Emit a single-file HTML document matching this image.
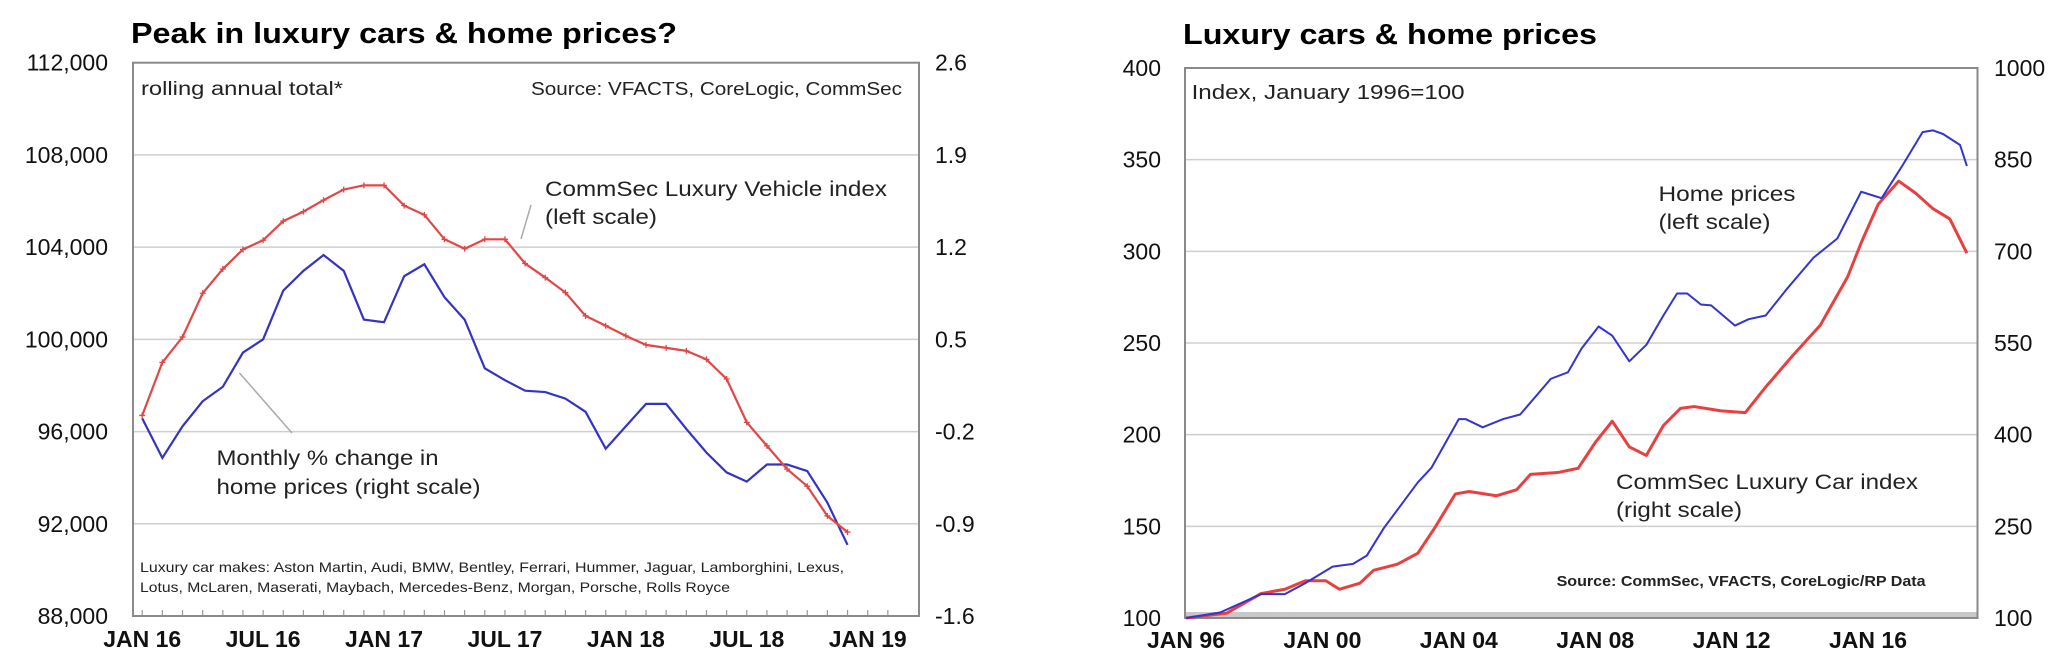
<!DOCTYPE html>
<html><head><meta charset="utf-8"><style>
html,body{margin:0;padding:0;background:#fff;width:2059px;height:668px;overflow:hidden}
svg{display:block;font-family:"Liberation Sans",Arial,sans-serif}
</style></head><body>
<svg id="s" width="2059" height="668" viewBox="0 0 2059 668">
<g id="left"></g>
<g id="right"></g>
</svg>
<script>
// ---------- Left chart data ----------
const leftMonths = ["JAN 16","JUL 16","JAN 17","JUL 17","JAN 18","JUL 18","JAN 19"];
const leftYTicks = ["88,000","92,000","96,000","100,000","104,000","108,000","112,000"];
const rightYTicksL = ["-1.6","-0.9","-0.2","0.5","1.2","1.9","2.6"];
const luxuryVehicle = [96700,99000,100100,102000,103050,103900,104300,105130,105540,106040,106500,106680,106680,105800,105400,104340,103930,104340,104340,103290,102680,102030,101020,100590,100150,99760,99630,99500,99130,98280,96400,95380,94370,93630,92340,91640];
const homeMonthlyChange = [-0.10,-0.40,-0.16,0.03,0.14,0.40,0.50,0.87,1.02,1.14,1.02,0.65,0.63,0.98,1.07,0.82,0.65,0.28,0.19,0.11,0.10,0.05,-0.05,-0.33,-0.16,0.01,0.01,-0.18,-0.36,-0.51,-0.58,-0.45,-0.45,-0.50,-0.74,-1.06];

// ---------- Right chart data ----------
const rightXTicks = ["JAN 96","JAN 00","JAN 04","JAN 08","JAN 12","JAN 16"];
const rightYTicksLeft = ["100","150","200","250","300","350","400"];
const rightYTicksRight = ["100","250","400","550","700","850","1000"];
const homeYears = [1996.0,1997.0,1998.2,1998.9,1999.5,2000.3,2000.9,2001.3,2001.8,2002.8,2003.2,2004.0,2004.2,2004.7,2005.3,2005.8,2006.7,2007.2,2007.6,2008.1,2008.5,2009.0,2009.5,2010.0,2010.4,2010.7,2011.1,2011.4,2012.1,2012.5,2013.0,2013.6,2014.4,2015.1,2015.8,2016.4,2017.0,2017.6,2017.9,2018.2,2018.7,2018.9];
const homePrices = [100,103,113,113,119,128,129.5,134,149,174,182,208.5,208.5,204,208.5,211,230.5,234,247,259,254,240,249,265,277,277,271,270.5,259.5,263,265,279,296.5,307,332.5,329,346.5,365,366,364,358,346.5];
const carYears = [1996.0,1997.2,1998.2,1998.9,1999.5,2000.1,2000.5,2001.1,2001.5,2002.2,2002.8,2003.3,2003.9,2004.3,2005.1,2005.7,2006.1,2006.9,2007.5,2008.0,2008.5,2009.0,2009.5,2010.0,2010.5,2010.9,2011.7,2012.4,2013.0,2013.8,2014.6,2015.4,2015.8,2016.3,2016.9,2017.4,2017.9,2018.4,2018.9];
const carIndex = [100,108,140,147,161,161,147,157,178,188,206,248,303,307,300,310,335,338,345,387,422,380,366,415,443,446,439,436,478,530,579,658,714,777,815,795,770,753,697];

const NS="http://www.w3.org/2000/svg";
function mk(parent,tag,attrs,text){const e=document.createElementNS(NS,tag);for(const k in attrs)e.setAttribute(k,attrs[k]);if(text!==undefined)e.textContent=text;parent.appendChild(e);return e;}

// ===== LEFT =====
(function(){
const g=document.getElementById('left');
const L=133,R=919,T=62.7,B=616;
const x=i=>142.2+i*(867.7-142.2)/36;
const yL=v=>B-(v-88000)/24000*(B-T);
const yR=v=>B-(v+1.6)/4.2*(B-T);
let t=mk(g,'text',{x:131,y:43,'font-size':29,'font-weight':'bold',textLength:546,lengthAdjust:'spacingAndGlyphs'},'Peak in luxury cars & home prices?');

leftYTicks.forEach((s,i)=>{const yy=B-i*(B-T)/6;
 if(i>0&&i<6){const l=mk(g,'line',{x1:L,x2:R,y1:yy,y2:yy,stroke:'#cfcfcf','stroke-width':1.5});}
 const a=mk(g,'text',{x:108,y:yy+8,'font-size':23,'text-anchor':'end',fill:'#111'},s);
 const b=mk(g,'text',{x:935,y:yy+8,'font-size':23,fill:'#111'},rightYTicksL[i]);
});
for(let i=0;i<=37;i++){const xx=x(i);if(xx<L||xx>R)continue;const tk=mk(g,'line',{x1:xx,x2:xx,y1:B,y2:B-6,stroke:'#999','stroke-width':1.2});}
leftMonths.forEach((s,i)=>{const a=mk(g,'text',{x:x(i*6),y:647,'font-size':23,'font-weight':'bold','text-anchor':'middle',fill:'#111'},s);});
const box=mk(g,'rect',{x:L,y:T,width:R-L,height:B-T,fill:'none',stroke:'#8a8a8a','stroke-width':2});
const txt=(s,xx,yy,w,fs,name)=>{const a=mk(g,'text',{x:xx,y:yy,'font-size':fs,fill:'#222',textLength:w,lengthAdjust:'spacingAndGlyphs'},s);};
txt('rolling annual total*',141,95,202,19,'subtitle-note');
txt('Source: VFACTS, CoreLogic, CommSec',531,95,371,18,'source-note');
txt('CommSec Luxury Vehicle index',545,196,342,21,'vehicle-series-label');
txt('(left scale)',545,224,112,21,'vehicle-scale-label');
txt('Monthly % change in',216.5,465,222,21,'home-series-label');
txt('home prices (right scale)',216.5,494,264,21,'home-scale-label');
txt('Luxury car makes: Aston Martin, Audi, BMW, Bentley, Ferrari, Hummer, Jaguar, Lamborghini, Lexus,',140,572,704,14,'footnote-line1');
txt('Lotus, McLaren, Maserati, Maybach, Mercedes-Benz, Morgan, Porsche, Rolls Royce',140,592,590,14,'footnote-line2');
let l1=mk(g,'line',{x1:531,y1:205,x2:521,y2:239,stroke:'#aaa','stroke-width':1.5});
let l2=mk(g,'line',{x1:239.5,y1:373,x2:292,y2:433,stroke:'#aaa','stroke-width':1.5});
const pb=mk(g,'polyline',{points:homeMonthlyChange.map((v,i)=>x(i)+','+yR(v)).join(' '),fill:'none',stroke:'#3434c4','stroke-width':2.2});

const pr=mk(g,'polyline',{points:luxuryVehicle.map((v,i)=>x(i)+','+yL(v)).join(' '),fill:'none',stroke:'#e04848','stroke-width':2.2});

luxuryVehicle.forEach((v,i)=>{const m=mk(g,'path',{d:`M${x(i)-3},${yL(v)}h6M${x(i)},${yL(v)-3}v6`,stroke:'#e04848','stroke-width':1.3});});
})();

// ===== RIGHT =====
(function(){
const g=document.getElementById('right');
const L=1185,R=1977.5,T=68,B=618;
const x=yr=>1186+(yr-1996)*(1868-1186)/20;
const yL=v=>B-(v-100)/300*(B-T);
const yR=v=>B-(v-100)/900*(B-T);
let t=mk(g,'text',{x:1183,y:44,'font-size':29,'font-weight':'bold',textLength:414,lengthAdjust:'spacingAndGlyphs'},'Luxury cars & home prices');

rightYTicksLeft.forEach((s,i)=>{const yy=B-i*(B-T)/6;
 if(i>0&&i<6){const l=mk(g,'line',{x1:L,x2:R,y1:yy,y2:yy,stroke:'#cfcfcf','stroke-width':1.5});}
 const a=mk(g,'text',{x:1161,y:yy+8,'font-size':23,'text-anchor':'end',fill:'#111'},s);
 const b=mk(g,'text',{x:1994,y:yy+8,'font-size':23,fill:'#111'},rightYTicksRight[i]);
});
const band=mk(g,'rect',{x:L,y:B-6,width:R-L,height:6,fill:'#c8c8c8'});
rightXTicks.forEach((s,i)=>{const a=mk(g,'text',{x:x(1996+i*4),y:648,'font-size':23,'font-weight':'bold','text-anchor':'middle',fill:'#111'},s);});
const box=mk(g,'rect',{x:L,y:T,width:R-L,height:B-T,fill:'none',stroke:'#8a8a8a','stroke-width':2});
const txt=(s,xx,yy,w,fs,name,bold)=>{const a=mk(g,'text',{x:xx,y:yy,'font-size':fs,fill:'#222',textLength:w,lengthAdjust:'spacingAndGlyphs'},s);if(bold)a.setAttribute('font-weight','bold');};
txt('Index, January 1996=100',1191.6,99,273,20,'subtitle-note');
txt('Home prices',1658.5,201,137,21,'home-series-label');
txt('(left scale)',1658.5,229,112,21,'home-scale-label');
txt('CommSec Luxury Car index',1616,489,302,21,'car-series-label');
txt('(right scale)',1616,517,126,21,'car-scale-label');
txt('Source: CommSec, VFACTS, CoreLogic/RP Data',1556.6,586,369,15,'source-note',true);
const pr=mk(g,'polyline',{points:carIndex.map((v,i)=>x(carYears[i])+','+yR(v)).join(' '),fill:'none',stroke:'#e84040','stroke-width':3,'stroke-linejoin':'round'});

const pb=mk(g,'polyline',{points:homePrices.map((v,i)=>x(homeYears[i])+','+yL(v)).join(' '),fill:'none',stroke:'#3434d0','stroke-width':2,'stroke-linejoin':'round'});

})();
</script>
</body></html>
